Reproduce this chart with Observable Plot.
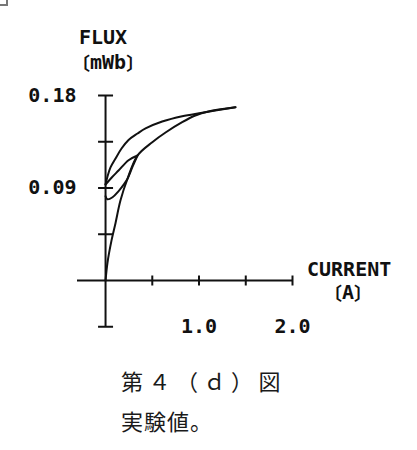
<!DOCTYPE html>
<html>
<head>
<meta charset="utf-8">
<script src="https://cdn.jsdelivr.net/npm/d3@7"></script>
<script src="https://cdn.jsdelivr.net/npm/@observablehq/plot@0.6"></script>
<style>
  html, body { margin: 0; padding: 0; background: #fff; }
  body { position: relative; width: 417px; height: 450px; overflow: hidden; }
  #chart { position: absolute; left: 0; top: 0; }
  .lbl { position: absolute; font-family: "DejaVu Sans Mono", monospace; font-weight: bold; font-size: 20px; color: #111; line-height: 20px; height: 20px; white-space: nowrap; }
  .br { font-family: "Noto Sans CJK JP", sans-serif; font-weight: 700; font-size: 18px; line-height: 18px; display: inline-block; vertical-align: top; margin-top: 1px; }
  .cap { position: absolute; font-family: "Noto Sans CJK JP", sans-serif; font-size: 22px; color: #1a1a1a; line-height: 1; white-space: nowrap; }
  #corner { position: absolute; left: 0; top: 0; width: 6px; height: 4px; border-right: 2px solid #777; border-bottom: 2px solid #777; }
</style>
</head>
<body>
<div id="corner"></div>
<div id="chart"></div>
<div class="lbl" style="left:79px; top:27px;">FLUX</div>
<div class="lbl" style="left:72px; top:52px;"><span class="br">〔</span>mWb<span class="br">〕</span></div>
<div class="lbl" style="left:307px; top:259px;">CURRENT</div>
<div class="lbl" style="left:324px; top:282px;"><span class="br">〔</span>A<span class="br">〕</span></div>
<div class="cap" style="left:121px; top:369px; letter-spacing:5.5px;">第４（ｄ）図</div>
<div class="cap" style="left:121px; top:409px; letter-spacing:1px;">実験値。</div>
<script>
// ---- data ----
// initial magnetization curve: current (A), flux (mWb)
const virginI   = [0, 0.021, 0.064, 0.107, 0.16, 0.235, 0.342, 0.5, 0.642, 0.82, 0.96, 1.1, 1.39];
const virginF   = [0, 0.0175, 0.039, 0.056, 0.078, 0.099, 0.1216, 0.1346, 0.144, 0.154, 0.1605, 0.1645, 0.1686];
// descending branch of the outer loop
const outerI    = [1.39, 1.034, 0.82, 0.606, 0.428, 0.342, 0.246, 0.171, 0.107, 0.053, 0.021, 0];
const outerF    = [0.1686, 0.1632, 0.1599, 0.1547, 0.148, 0.143, 0.1367, 0.1284, 0.1187, 0.110, 0.1012, 0.0934];
// minor loop, descending branch
const minorUpI  = [0.342, 0.246, 0.139, 0.064, 0];
const minorUpF  = [0.1216, 0.117, 0.107, 0.100, 0.0934];
// minor loop, ascending branch
const minorLoI  = [0, 0.02, 0.075, 0.14, 0.2, 0.235, 0.29, 0.342];
const minorLoF  = [0.082, 0.079, 0.081, 0.087, 0.094, 0.099, 0.111, 0.1216];

// axis ticks
const xTicks = [0.5, 1.0, 1.5, 2.0];
const xTickLabels = [1.0, 2.0];
const yTicks = [-0.045, 0.045, 0.09, 0.135, 0.18];
const yTickLabels = [0.09, 0.18];
const xExtent = [-0.3, 2.0];
const yExtent = [-0.045, 0.18];

const toRows = (xs, ys) => xs.map((x, i) => ({x, y: ys[i]}));
const curves = [toRows(virginI, virginF), toRows(outerI, outerF), toRows(minorUpI, minorUpF), toRows(minorLoI, minorLoF)];

const hline = {draw(ctx, size) { const r = Math.sqrt(size / Math.PI); ctx.moveTo(-r, 0); ctx.lineTo(r, 0); }};
const vline = {draw(ctx, size) { const r = Math.sqrt(size / Math.PI); ctx.moveTo(0, -r); ctx.lineTo(0, r); }};

const W = 417, H = 340;
const chart = Plot.plot({
  width: W,
  height: H,
  marginLeft: 77,
  marginRight: 125,
  marginTop: 95,
  marginBottom: H - 326.25,
  style: {fontFamily: "DejaVu Sans Mono, monospace", fontSize: "20px", fontWeight: "bold", color: "#111", background: "transparent"},
  x: {domain: xExtent, axis: null},
  y: {domain: yExtent, axis: null},
  marks: [
    Plot.ruleY([0], {x1: xExtent[0], x2: xExtent[1], stroke: "#111", strokeWidth: 2}),
    Plot.ruleX([0], {y1: yExtent[0], y2: yExtent[1], stroke: "#111", strokeWidth: 2}),
    Plot.dot(yTicks, {x: () => 0, y: d => d, symbol: hline, r: 7.5, fill: "none", stroke: "#111", strokeWidth: 2}),
    Plot.dot(xTicks, {x: d => d, y: () => 0, symbol: vline, r: 5, fill: "none", stroke: "#111", strokeWidth: 2}),
    ...curves.map(c => Plot.line(c, {x: "x", y: "y", curve: "catmull-rom", stroke: "#111", strokeWidth: 2})),
    Plot.axisY(yTickLabels, {anchor: "left", label: null, tickSize: 0, tickPadding: 1, tickFormat: d3.format(".2f")}),
    Plot.axisX(xTickLabels, {anchor: "bottom", label: null, tickSize: 0, tickPadding: -8, tickFormat: d3.format(".1f")})
  ]
});
document.getElementById("chart").appendChild(chart);
</script>
</body>
</html>
